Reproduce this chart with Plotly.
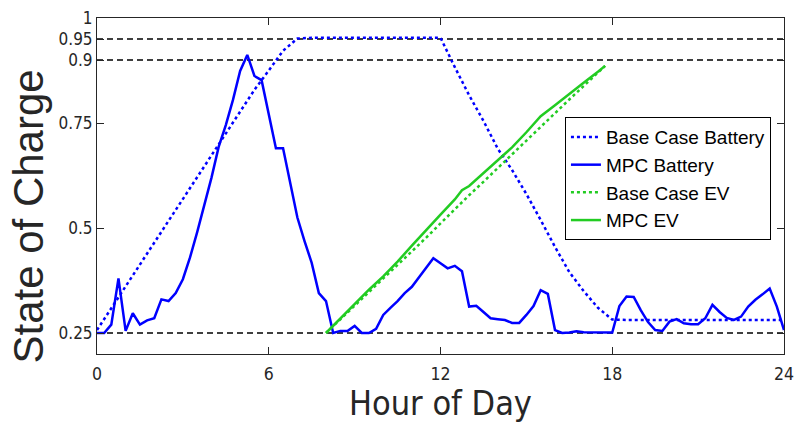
import numpy as np
import plotly.graph_objects as go

# ---- data ----
hours_15min = np.arange(97) * 0.25
mpc_battery = [
    0.250, 0.250, 0.270, 0.380, 0.255, 0.297, 0.270, 0.280,
    0.285, 0.330, 0.326, 0.345, 0.378, 0.430, 0.490, 0.555,
    0.620, 0.693, 0.745, 0.805, 0.874, 0.912, 0.862, 0.852,
    0.770, 0.690, 0.690, 0.610, 0.525, 0.469, 0.417, 0.345,
    0.326, 0.250, 0.255, 0.255, 0.267, 0.250, 0.250, 0.260,
    0.293, 0.310, 0.326, 0.345, 0.360, 0.383, 0.407, 0.428,
    0.416, 0.404, 0.410, 0.397, 0.313, 0.315, 0.300, 0.285,
    0.283, 0.281, 0.274, 0.274, 0.293, 0.314, 0.352, 0.343,
    0.257, 0.250, 0.251, 0.254, 0.252, 0.252, 0.252, 0.252,
    0.251, 0.314, 0.337, 0.336, 0.304, 0.276, 0.257, 0.255,
    0.277, 0.283, 0.273, 0.271, 0.271, 0.285, 0.317, 0.300,
    0.286, 0.281, 0.289, 0.313, 0.329, 0.342, 0.356, 0.313,
    0.257,
]

hours_30min = np.arange(49) * 0.5
base_battery = [
    0.257, 0.309, 0.361, 0.413, 0.465, 0.517, 0.569, 0.621,
    0.673, 0.725, 0.777, 0.829, 0.875, 0.922, 0.951, 0.953,
    0.953, 0.953, 0.953, 0.953, 0.953, 0.953, 0.953, 0.953,
    0.953, 0.883, 0.816, 0.755, 0.689, 0.638, 0.581, 0.519,
    0.455, 0.395, 0.350, 0.310, 0.282,
    0.281, 0.281, 0.281, 0.281, 0.281, 0.281,
    0.281, 0.281, 0.281, 0.281, 0.281, 0.281,
]

base_ev_hours = [8.0, 8.5, 9.0, 9.5, 10.0, 10.5, 11.0, 11.5, 12.0, 12.5, 13.0,
                 13.5, 14.0, 14.5, 15.0, 15.5, 16.0, 16.5, 17.0, 17.5, 17.75]
base_ev = [0.250, 0.283, 0.316, 0.348, 0.380, 0.412, 0.444, 0.477, 0.511, 0.545, 0.578,
           0.610, 0.643, 0.676, 0.708, 0.741, 0.773, 0.806, 0.838, 0.870, 0.886]

mpc_ev_hours = [8.0, 8.5, 9.0, 9.5, 10.0, 10.5, 11.0, 11.5, 12.0, 12.5, 12.75, 13.0,
                13.5, 14.0, 14.5, 15.0, 15.5, 16.0, 16.5, 17.0, 17.5, 17.75]
mpc_ev = [0.250, 0.285, 0.320, 0.353, 0.385, 0.420, 0.458, 0.496, 0.532, 0.568, 0.590, 0.600,
          0.630, 0.660, 0.692, 0.728, 0.766, 0.792, 0.820, 0.846, 0.872, 0.886]

limit_levels = [0.25, 0.9, 0.95]
day_span = [0, 24]

x_ticks = [0, 6, 12, 18, 24]
y_ticks = [0.25, 0.5, 0.75, 0.9, 0.95, 1.0]
y_tick_labels = ["0.25", "0.5", "0.75", "0.9", "0.95", "1"]

# ---- styles ----
BLUE = "#0000ff"
GREEN = "#22cc22"
AX = "#262626"
NARROW = "Liberation Sans Narrow, Arial Narrow, DejaVu Sans Condensed, sans-serif"
SANS = "Liberation Sans, Arial, Helvetica, sans-serif"

fig = go.Figure()

for lvl in limit_levels:
    fig.add_trace(go.Scatter(
        x=day_span, y=[lvl, lvl], mode="lines", showlegend=False, hoverinfo="skip",
        line=dict(color="black", width=1.3, dash="6px,4px"),
    ))

fig.add_trace(go.Scatter(x=hours_30min, y=base_battery, mode="lines",
                         name="Base Case Battery",
                         line=dict(color=BLUE, width=2.5, dash="dot")))
fig.add_trace(go.Scatter(x=hours_15min, y=mpc_battery, mode="lines",
                         name="MPC Battery",
                         line=dict(color=BLUE, width=2.5)))
fig.add_trace(go.Scatter(x=base_ev_hours, y=base_ev, mode="lines",
                         name="Base Case EV",
                         line=dict(color=GREEN, width=2.5, dash="dot")))
fig.add_trace(go.Scatter(x=mpc_ev_hours, y=mpc_ev, mode="lines",
                         name="MPC EV",
                         line=dict(color=GREEN, width=2.5)))

fig.update_layout(
    width=795, height=428,
    margin=dict(l=97, r=11, t=18, b=74),
    paper_bgcolor="white", plot_bgcolor="white",
    showlegend=True,
    legend=dict(
        x=0.981, y=0.705, xanchor="right", yanchor="top",
        bgcolor="white", bordercolor="black", borderwidth=1,
        font=dict(family=SANS, size=19, color="black"),
        tracegroupgap=0,
    ),
    xaxis=dict(
        range=[0, 24], tickvals=x_ticks, ticktext=[str(v) for v in x_ticks],
        showgrid=False, zeroline=False, automargin=False,
        showline=True, linecolor=AX, linewidth=1, mirror="ticks",
        ticks="inside", ticklen=7, tickcolor=AX, tickwidth=1,
        ticklabelstandoff=4,
        tickfont=dict(family=NARROW, size=17.5, color=AX),
    ),
    yaxis=dict(
        range=[0.2, 1.0], tickvals=y_ticks, ticktext=y_tick_labels,
        showgrid=False, zeroline=False, automargin=False,
        showline=True, linecolor=AX, linewidth=1, mirror="ticks",
        ticks="inside", ticklen=7, tickcolor=AX, tickwidth=1,
        tickfont=dict(family=NARROW, size=17, color=AX),
    ),
    annotations=[
        dict(text="State of Charge", textangle=-90, showarrow=False,
             xref="paper", yref="paper", x=-0.1, y=0.41,
             xanchor="center", yanchor="middle",
             font=dict(family=SANS, size=42, color=AX)),
        dict(text="Hour of Day", showarrow=False, borderpad=0,
             xref="paper", yref="paper", x=0.5, y=-0.145,
             xanchor="center", yanchor="middle",
             font=dict(family=NARROW, size=34, color=AX)),
    ],
)

fig.write_html(
    "out.html",
    config={"displayModeBar": False},
    post_script="document.body.style.margin='0';document.body.style.overflow='hidden';",
)
